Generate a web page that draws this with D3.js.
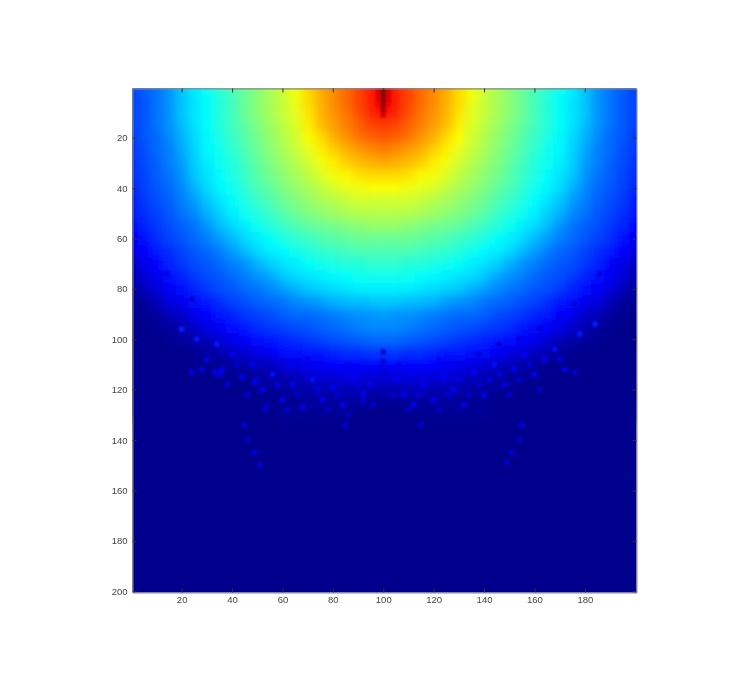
<!DOCTYPE html>
<html>
<head>
<meta charset="utf-8">
<script src="https://cdn.jsdelivr.net/npm/d3@7/dist/d3.min.js"></script>
<style>
html,body{margin:0;padding:0;background:#fff;}
svg{display:block;}
text{font-family:"Liberation Sans",Arial,sans-serif;}
</style>
</head>
<body>
<svg id="chart" width="750" height="690"></svg>
<script>
const xTicks = [20,40,60,80,100,120,140,160,180];
const yTicks = [20,40,60,80,100,120,140,160,180,200];
const xCentre = 100;
const dxSteps = d3.range(0,101,5);
const yRows = d3.range(0,131,5);
// percent of colour range: one row per yRows entry, one value per dxSteps entry
const fieldRows = [
[90,85,81,77,74,71,66,61,58,54,51,48,45,42,39,36,32,27,24,22,19],
[90,85,81,77,74,70,66,61,57,54,51,48,44,41,38,35,32,27,24,21,19],
[87,84,80,76,73,70,65,60,57,54,51,48,44,41,38,35,32,27,24,21,19],
[82,81,78,75,72,69,64,59,56,53,50,47,44,41,38,35,31,27,24,21,19],
[79,78,76,73,70,66,62,58,55,52,49,46,43,40,37,34,30,26,23,21,18],
[75,74,72,70,67,64,60,57,54,51,48,45,42,39,37,33,29,25,23,20,18],
[71,70,69,67,64,61,58,55,53,50,47,44,41,39,36,33,28,25,22,20,17],
[66,66,65,63,61,59,56,54,51,49,46,43,40,38,35,32,27,24,22,19,17],
[62,62,61,60,59,56,54,52,50,47,45,42,39,37,34,30,26,23,21,19,16],
[58,58,58,57,55,54,52,50,48,45,43,40,38,35,32,28,25,22,20,18,15],
[55,55,55,54,53,51,50,48,46,43,41,39,36,33,30,26,24,21,19,17,15],
[52,52,51,50,49,48,47,45,43,41,39,36,34,31,27,24,22,20,18,16,13],
[48,48,48,47,46,45,43,42,40,38,36,34,31,28,25,23,21,19,17,14,11],
[45,45,45,44,43,42,41,39,37,36,34,31,28,25,23,21,19,17,15,13,9],
[42,42,41,41,40,39,38,36,35,33,30,27,25,23,21,20,18,16,13,10,6],
[39,39,39,38,37,36,35,34,32,29,27,25,23,21,20,18,16,14,11,8,4],
[36,36,36,35,34,33,32,30,28,26,24,23,21,20,18,16,14,12,9,5,2],
[32,32,31,31,30,28,27,26,24,23,22,20,19,17,15,14,11,9,5,2,1],
[28,27,27,26,25,24,23,23,22,20,19,18,16,15,13,11,7,5,2,1,0],
[26,26,25,24,23,22,21,20,19,18,17,15,14,12,10,7,4,2,1,0,0],
[23,23,22,21,20,19,18,17,16,15,14,13,11,8,5,3,2,1,0,0,0],
[18,18,17,17,16,15,15,14,14,12,10,8,6,4,2,1,0,0,0,0,0],
[13,13,13,13,13,12,11,10,8,6,5,3,2,1,0,0,0,0,0,0,0],
[8,8,9,9,8,8,7,5,4,3,2,1,1,0,0,0,0,0,0,0,0],
[4,4,5,5,4,4,3,2,2,1,1,0,0,0,0,0,0,0,0,0,0],
[1,1,2,2,2,2,2,1,1,0,0,0,0,0,0,0,0,0,0,0,0],
[0,0,0,1,1,1,1,1,1,0,0,0,0,0,0,0,0,0,0,0,0]
];
// the narrow dark red core and the speckles of the fringe: x, y, percent
const speckX = [100,100,100,100,100,100,98,102,98,102,98,102,98,102,
  45,46,49,51,85,92,24,33,35,49,53,115,155,154,151,149,176,
  100,100,100,
  30,36,40,44,48,52,56,60,64,68,72,76,80,84,88,92,95,105,108,112,116,120,124,128,132,136,140,144,148,152,156,160,164,168,172,34,26,20,178,184,
  42,50,58,62,66,74,78,82,86,90,96,104,110,114,118,122,126,130,134,138,142,146,150,154,158,38,46,54,28,170,162,58,64,
  14,10,18,24,30,38,46,54,62,70,78,86,94,106,114,122,130,138,146,154,162,170,176,182,190,186];
const speckY = [1,3,5,7,9,11,1,1,3,3,5,5,7,7,
  134,140,145,150,134,125,113,113,114,117,128,134,134,140,145,149,113,
  105,109,113,
  108,112,106,115,110,120,114,124,118,127,116,124,119,126,115,122,118,116,122,126,118,124,115,120,126,113,122,110,118,112,106,114,108,104,112,102,100,96,98,94,
  110,116,118,128,122,120,128,122,130,118,126,122,128,122,114,128,122,116,122,118,116,114,122,116,110,118,122,126,112,108,120,106,110,
  74,82,88,84,96,100,104,108,112,108,113,110,112,110,112,108,110,106,102,100,96,92,86,90,82,74];
const speckV = [99,100,100,99,96,92,91,91,91,91,90,90,88,88,
  9,7,9,9,8,9,11,11,11,13,9,8,10,7,9,8,9,
  6,6,6,
  12,13,12,13,12,13,14,12,13,11,14,12,13,11,13,12,12,13,12,11,13,12,13,13,11,13,12,14,12,13,12,13,13,14,13,15,15,16,15,16,
  9,8,10,8,9,10,7,9,6,10,8,9,7,9,10,7,9,10,8,9,10,9,8,9,10,9,8,7,10,10,7,12,11,
  9,6,7,6,10,9,8,7,9,11,10,11,11,11,11,11,9,9,8,9,8,9,7,6,6,9];

const jetStops = [0,0.125,0.375,0.625,0.875,1];
const jetColors = ["#00008c","#0000ff","#00ffff","#ffff00","#ff0000","#800000"];
const jet = d3.scaleLinear().domain(jetStops).range(jetColors).clamp(true);

const svg = d3.select("#chart");
const x = d3.scaleLinear().domain([0.5,200.5]).range([132.5,636.5]);
const y = d3.scaleLinear().domain([0.5,200.5]).range([88.5,592.5]);
const defs = svg.append("defs");
defs.append("clipPath").attr("id","plotClip").append("rect")
  .attr("x",x(0.5)).attr("y",y(0.5)).attr("width",x(200.5)-x(0.5)).attr("height",y(200.5)-y(0.5));
const flt = (id,s)=>defs.append("filter").attr("id",id).attr("x","-10%").attr("y","-10%").attr("width","120%").attr("height","120%")
  .append("feGaussianBlur").attr("stdDeviation",s);
flt("fieldBlur",4); flt("speckBlur",1.1);
defs.append("filter").attr("id","axisBlur").attr("x","-5%").attr("y","-5%").attr("width","110%").attr("height","110%")
  .append("feGaussianBlur").attr("stdDeviation",0.6);

const plot = svg.append("g").attr("clip-path","url(#plotClip)");
plot.append("rect").attr("x",x(-30)).attr("y",y(-30)).attr("width",x(230)-x(-30)).attr("height",y(230)-y(-30)).attr("fill",jet(0));

const cells = [];
yRows.forEach((row,i)=>dxSteps.forEach((dx,j)=>{
  const v = fieldRows[i][j];
  cells.push({cx:xCentre-dx,row,v});
  if(dx>0) cells.push({cx:xCentre+dx,row,v});
}));
const half = 2.5, edge = 12;
const fieldG = plot.append("g").attr("filter","url(#fieldBlur)");
fieldG.selectAll("rect").data(cells).join("rect")
  .attr("x",d=>x(d.cx-half-(d.cx===0?edge:0)))
  .attr("y",d=>y(d.row-half-(d.row===0?edge:0)))
  .attr("width",d=>x(d.cx+half+(d.cx===0||d.cx===200?edge:0))-x(d.cx-half)+0.5)
  .attr("height",d=>y(d.row+half+(d.row===0?edge:0))-y(d.row-half)+0.5)
  .attr("fill",d=>jet(d.v/100));

const speckG = plot.append("g").attr("filter","url(#speckBlur)");
speckG.selectAll("rect").data(speckX.map((sx,i)=>({sx,sy:speckY[i],v:speckV[i]}))).join("rect")
  .attr("x",d=>x(d.sx-1)).attr("y",d=>y(d.sy-1))
  .attr("width",x(2.5)-x(0.5)).attr("height",y(2.5)-y(0.5))
  .attr("fill",d=>jet(d.v/100));

const axes = svg.append("g").attr("filter","url(#axisBlur)");
const tk = 4;
const styleAxis = g=>{
  g.select(".domain").attr("stroke","#888");
  g.selectAll(".tick line").attr("stroke","#333");
  g.selectAll(".tick text").attr("fill","#444").attr("font-size",9.5);
};
axes.append("g").attr("transform",`translate(0,${y(200.5)})`)
  .call(d3.axisBottom(x).tickValues(xTicks).tickSize(-tk).tickPadding(4).tickSizeOuter(0)).call(styleAxis);
axes.append("g").attr("transform",`translate(${x(0.5)},0)`)
  .call(d3.axisLeft(y).tickValues(yTicks).tickSize(-tk).tickPadding(5).tickSizeOuter(0)).call(styleAxis);
axes.append("g").attr("transform",`translate(0,${y(0.5)})`)
  .call(d3.axisTop(x).tickValues(xTicks).tickSize(-tk).tickFormat("").tickSizeOuter(0)).call(styleAxis);
axes.append("g").attr("transform",`translate(${x(200.5)},0)`)
  .call(d3.axisRight(y).tickValues(yTicks).tickSize(-tk).tickFormat("").tickSizeOuter(0)).call(styleAxis);
</script>
</body>
</html>
